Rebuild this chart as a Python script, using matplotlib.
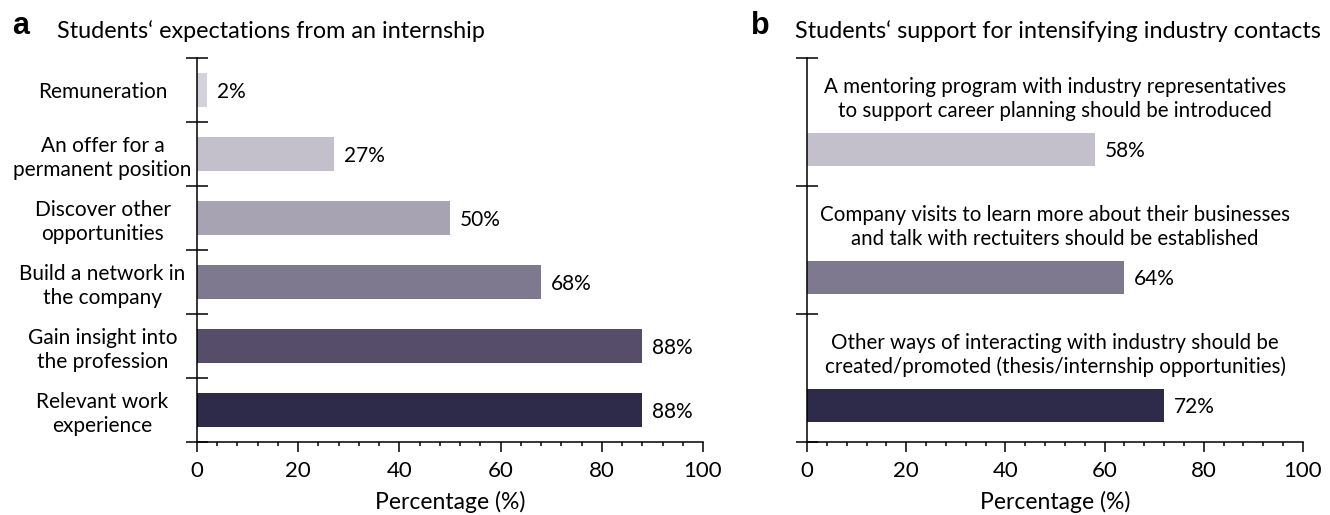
import matplotlib.pyplot as plt
from matplotlib.ticker import MultipleLocator

plt.rcParams['font.family'] = ['Lato', 'DejaVu Sans']

# panel a data
expect_labels = ["Remuneration", "An offer for a\npermanent position", "Discover other\nopportunities",
                 "Build a network in\nthe company", "Gain insight into\nthe profession", "Relevant work\nexperience"]
expect_values = [2, 27, 50, 68, 88, 88]
expect_colors = ["#d4d2da", "#c3c0cc", "#a7a3b3", "#7e798f", "#554d69", "#2e2a4a"]

# panel b data
support_labels = ["A mentoring program with industry representatives\nto support career planning should be introduced",
                  "Company visits to learn more about their businesses\nand talk with rectuiters should be established",
                  "Other ways of interacting with industry should be\ncreated/promoted (thesis/internship opportunities)"]
support_values = [58, 64, 72]
support_colors = ["#c3c0cc", "#7e798f", "#2e2a4a"]

W, H = 1330, 515
fig = plt.figure(figsize=(W / 100, H / 100), dpi=100)
axa = fig.add_axes([197 / W, 1 - 442 / H, 506 / W, 384 / H])
axb = fig.add_axes([807 / W, 1 - 442 / H, 496 / W, 384 / H])


def style(ax, n):
    for s in ["top", "right"]:
        ax.spines[s].set_visible(False)
    for s in ["left", "bottom"]:
        ax.spines[s].set_linewidth(1.1)
    ax.set_xlim(0, 100)
    ax.set_ylim(n - 0.5, -0.5)
    ax.xaxis.set_major_locator(MultipleLocator(20))
    ax.xaxis.set_minor_locator(MultipleLocator(4))
    ax.tick_params(axis="x", which="major", length=7.5, width=1.1, labelsize=16, pad=6)
    ax.tick_params(axis="x", which="minor", length=2.8, width=1.1)
    ax.set_yticks([i - 0.5 for i in range(n + 1)])
    ax.set_yticklabels([])
    ax.tick_params(axis="y", which="major", direction="inout", length=16, width=1.1)
    ax.set_xlabel("Percentage (%)", fontsize=16.5, labelpad=7)


# panel a
style(axa, len(expect_values))
ya = list(range(len(expect_values)))
axa.barh(ya, expect_values, height=0.52, color=expect_colors)
axa.set_yticks(ya, minor=True)
axa.set_yticklabels(expect_labels, minor=True, ha="center", multialignment="center", linespacing=1.26)
axa.tick_params(axis="y", which="minor", length=0, labelsize=15, pad=68)
for y, v in zip(ya, expect_values):
    axa.text(v + 2, y + 0.03, f"{v}%", va="center", ha="left", fontsize=15)

# panel b
style(axb, len(support_values))
yb = list(range(len(support_values)))
axb.barh([y + 0.215 for y in yb], support_values, height=0.26, color=support_colors)
for y, v, lab in zip(yb, support_values, support_labels):
    axb.text(v + 2, y + 0.23, f"{v}%", va="center", ha="left", fontsize=15)
    axb.text(50, y - 0.18, lab, va="center", ha="center", multialignment="center",
             fontsize=14.8, linespacing=1.26)

fig.text(12 / W, 1 - 34 / H, "a", fontsize=22, fontweight="bold", family="Liberation Sans", va="baseline")
fig.text(57 / W, 1 - 38 / H, "Students\u2018 expectations from an internship", fontsize=16.8, va="baseline")
fig.text(751 / W, 1 - 34 / H, "b", fontsize=22, fontweight="bold", family="Liberation Sans", va="baseline")
fig.text(795 / W, 1 - 38 / H, "Students\u2018 support for intensifying industry contacts", fontsize=16.8, va="baseline")

fig.savefig("out.png", dpi=100)
